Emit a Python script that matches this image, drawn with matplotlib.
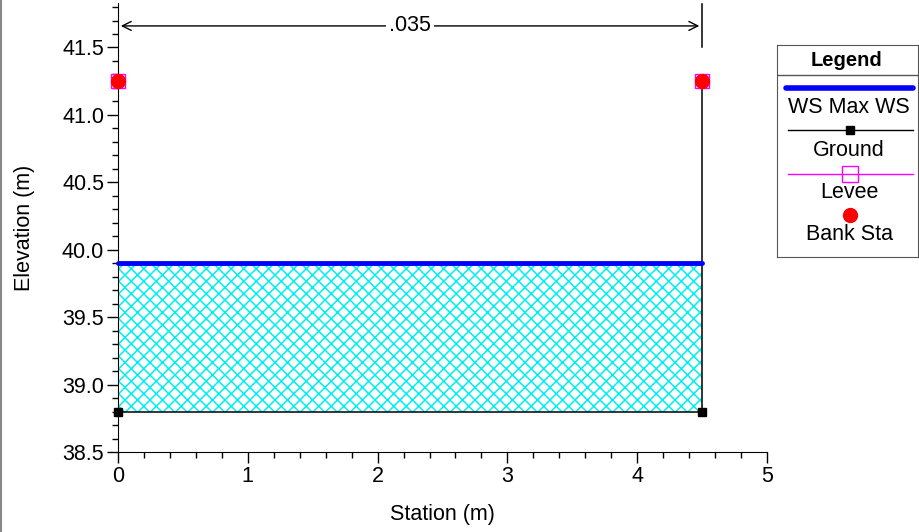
import numpy as np
import matplotlib.pyplot as plt
import matplotlib.backend_bases as mbb
from matplotlib.lines import Line2D

plt.rcParams['font.family'] = ['Liberation Sans', 'DejaVu Sans']
FS = 15.5

# Querschnitt
ground_x = [0, 0, 4.5, 4.5]
ground_y = [41.25, 38.8, 38.8, 41.25]
ground_pts_x = [0, 4.5]
ground_pts_y = [38.8, 38.8]
levee_x = [0, 4.5]
levee_y = [41.25, 41.25]
bank_x = [0, 4.5]
bank_y = [41.25, 41.25]
ws_x = [0, 4.5]
ws_y = [39.9, 39.9]
n_value = ".035"
n_x = [0, 4.5]
n_y = 41.66

# schraffur dichter als standard (ganzzahlig, sonst kachelt es nicht)
_orig_hatch = mbb.GraphicsContextBase.get_hatch_path
mbb.GraphicsContextBase.get_hatch_path = lambda self, density=16: _orig_hatch(self, density)

fig = plt.figure(figsize=(9.19, 5.32), dpi=100)
ax = fig.add_axes([118 / 919, 80 / 532, (767 - 118) / 919, 449 / 532])

# wasser mit schraffur
plt.rcParams['hatch.color'] = '#00f0f0'
plt.rcParams['hatch.linewidth'] = 1.1
ax.fill_between(ws_x, ground_pts_y, ws_y, facecolor='white', edgecolor='#00f0f0',
                hatch='x', linewidth=0, zorder=1)
ax.plot(ws_x, ws_y, color='blue', lw=3.5, zorder=3, solid_capstyle='round', clip_on=False)
ax.plot(ground_x, ground_y, 'k-', lw=1.1, zorder=2)
ax.plot(ground_pts_x, ground_pts_y, 'ks', ms=6, zorder=4, clip_on=False)
ax.plot(levee_x, levee_y, 's', mfc='none', mec='magenta', ms=10, zorder=4, clip_on=False)
ax.plot(bank_x, bank_y, 'o', color='red', ms=10, zorder=5, clip_on=False)

# n-wert bemassung
ax.plot([n_x[1], n_x[1]], [41.5, 41.82], 'k-', lw=1.1, clip_on=False)
ax.annotate('', xy=(n_x[0], n_y), xytext=(n_x[1], n_y),
            arrowprops=dict(arrowstyle='<->', color='k', lw=1.0, mutation_scale=16))
ax.text((n_x[0] + n_x[1]) / 2, n_y, n_value, ha='center', va='center', fontsize=FS,
        bbox=dict(fc='white', ec='none', pad=2))

ax.set_xlim(0, 5)
ax.set_ylim(38.5, 41.83)
ax.set_xticks([0, 1, 2, 3, 4, 5])
ax.set_xticks(np.arange(0, 5.01, 0.2), minor=True)
ax.set_yticks([38.5, 39.0, 39.5, 40.0, 40.5, 41.0, 41.5])
ax.set_yticklabels(['38.5', '39.0', '39.5', '40.0', '40.5', '41.0', '41.5'])
ax.set_yticks(np.arange(38.5, 41.81, 0.1), minor=True)
ax.tick_params(which='major', length=8, width=1, labelsize=FS, pad=2)
ax.tick_params(which='minor', length=4, width=1)
ax.spines['top'].set_visible(False)
ax.spines['right'].set_visible(False)
ax.set_xlabel('Station (m)', fontsize=FS, labelpad=12)
ax.set_ylabel('Elevation (m)', fontsize=FS, labelpad=19)

# legende von hand
lx = fig.add_axes([777 / 919, (532 - 257) / 532, 141 / 919, 212 / 532])
lx.set_xlim(0, 141)
lx.set_ylim(212, 0)
lx.set_xticks([])
lx.set_yticks([])
for s in lx.spines.values():
    s.set_color('#555555')
lx.plot([0, 141], [30, 30], color='#555555', lw=1)
lx.text(70, 15, 'Legend', ha='center', va='center', fontsize=FS - 1, fontweight='bold')
lx.plot([9, 136], [43, 43], color='blue', lw=4, solid_capstyle='round')
lx.text(72, 62, 'WS Max WS', ha='center', va='center', fontsize=FS)
lx.plot([11, 136], [85, 85], 'k-', lw=1)
lx.plot([73], [85], 'ks', ms=6)
lx.text(72, 105, 'Ground', ha='center', va='center', fontsize=FS)
lx.plot([11, 136], [129, 129], color='magenta', lw=1)
lx.plot([73], [129], 's', mfc='none', mec='magenta', ms=11)
lx.text(72, 148, 'Levee', ha='center', va='center', fontsize=FS)
lx.plot([73], [170], 'o', color='red', ms=10)
lx.text(72, 190, 'Bank Sta', ha='center', va='center', fontsize=FS)

# grauer rand links
fig.add_artist(Line2D([0.001, 0.001], [0, 1], color='#888888', lw=1.5))

fig.savefig('out.png', dpi=100)
